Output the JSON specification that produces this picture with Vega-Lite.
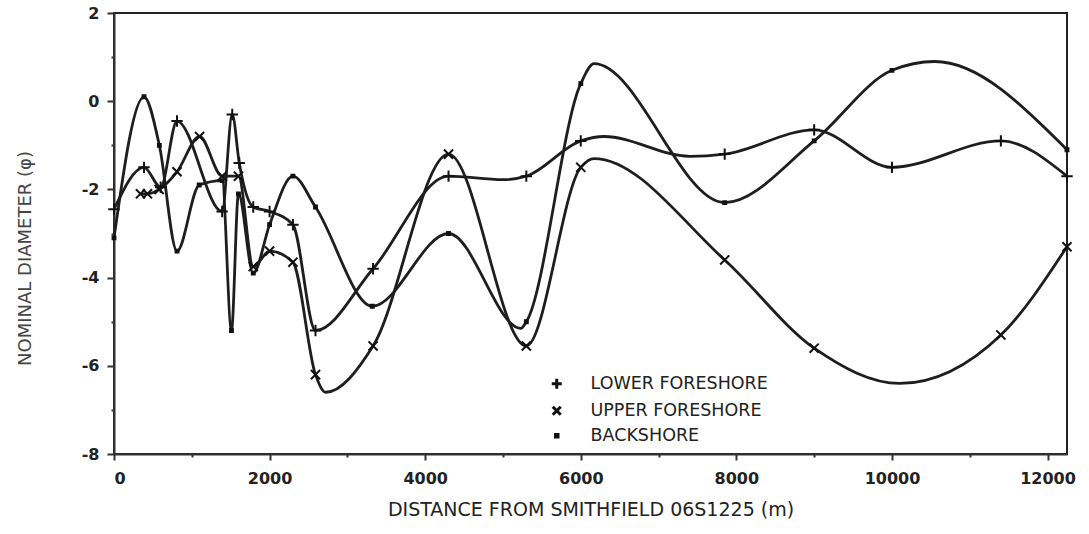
{
  "$schema": "https://vega.github.io/schema/vega-lite/v6.json",
  "autosize": "none",
  "width": 953,
  "height": 441,
  "padding": {"left": 114, "top": 13, "right": 22, "bottom": 80},
  "background": "white",
  "config": {
    "view": {"stroke": "#222", "strokeWidth": 2},
    "font": "DejaVu Sans"
  },
  "data": {"values": [
    {"s": "LOWER FORESHORE", "x": 0, "y": -2.45, "kind": "station"},
    {"s": "LOWER FORESHORE", "x": 386, "y": -1.5, "kind": "station"},
    {"s": "LOWER FORESHORE", "x": 600, "y": -1.95, "kind": "station"},
    {"s": "LOWER FORESHORE", "x": 810, "y": -0.45, "kind": "station"},
    {"s": "LOWER FORESHORE", "x": 1390, "y": -2.5, "kind": "station"},
    {"s": "LOWER FORESHORE", "x": 1520, "y": -0.3, "kind": "station"},
    {"s": "LOWER FORESHORE", "x": 1610, "y": -1.4, "kind": "station"},
    {"s": "LOWER FORESHORE", "x": 1790, "y": -2.4, "kind": "station"},
    {"s": "LOWER FORESHORE", "x": 2000, "y": -2.5, "kind": "station"},
    {"s": "LOWER FORESHORE", "x": 2300, "y": -2.8, "kind": "station"},
    {"s": "LOWER FORESHORE", "x": 2590, "y": -5.2, "kind": "station"},
    {"s": "LOWER FORESHORE", "x": 3330, "y": -3.8, "kind": "station"},
    {"s": "LOWER FORESHORE", "x": 4300, "y": -1.7, "kind": "station"},
    {"s": "LOWER FORESHORE", "x": 5000, "y": -1.78, "kind": "curve"},
    {"s": "LOWER FORESHORE", "x": 5300, "y": -1.7, "kind": "station"},
    {"s": "LOWER FORESHORE", "x": 6000, "y": -0.9, "kind": "station"},
    {"s": "LOWER FORESHORE", "x": 6300, "y": -0.8, "kind": "curve"},
    {"s": "LOWER FORESHORE", "x": 7400, "y": -1.25, "kind": "curve"},
    {"s": "LOWER FORESHORE", "x": 7850, "y": -1.2, "kind": "station"},
    {"s": "LOWER FORESHORE", "x": 9000, "y": -0.65, "kind": "station"},
    {"s": "LOWER FORESHORE", "x": 10000, "y": -1.5, "kind": "station"},
    {"s": "LOWER FORESHORE", "x": 11400, "y": -0.9, "kind": "station"},
    {"s": "LOWER FORESHORE", "x": 12250, "y": -1.7, "kind": "station"},
    {"s": "UPPER FORESHORE", "x": 340, "y": -2.1, "kind": "station"},
    {"s": "UPPER FORESHORE", "x": 430, "y": -2.1, "kind": "station"},
    {"s": "UPPER FORESHORE", "x": 580, "y": -2.0, "kind": "station"},
    {"s": "UPPER FORESHORE", "x": 810, "y": -1.6, "kind": "station"},
    {"s": "UPPER FORESHORE", "x": 1100, "y": -0.8, "kind": "station"},
    {"s": "UPPER FORESHORE", "x": 1390, "y": -1.7, "kind": "station"},
    {"s": "UPPER FORESHORE", "x": 1600, "y": -1.7, "kind": "station"},
    {"s": "UPPER FORESHORE", "x": 1790, "y": -3.75, "kind": "station"},
    {"s": "UPPER FORESHORE", "x": 2000, "y": -3.4, "kind": "station"},
    {"s": "UPPER FORESHORE", "x": 2300, "y": -3.65, "kind": "station"},
    {"s": "UPPER FORESHORE", "x": 2590, "y": -6.2, "kind": "station"},
    {"s": "UPPER FORESHORE", "x": 2720, "y": -6.6, "kind": "curve"},
    {"s": "UPPER FORESHORE", "x": 3330, "y": -5.55, "kind": "station"},
    {"s": "UPPER FORESHORE", "x": 4300, "y": -1.2, "kind": "station"},
    {"s": "UPPER FORESHORE", "x": 5300, "y": -5.55, "kind": "station"},
    {"s": "UPPER FORESHORE", "x": 6000, "y": -1.5, "kind": "station"},
    {"s": "UPPER FORESHORE", "x": 6170, "y": -1.3, "kind": "curve"},
    {"s": "UPPER FORESHORE", "x": 7850, "y": -3.6, "kind": "station"},
    {"s": "UPPER FORESHORE", "x": 9000, "y": -5.6, "kind": "station"},
    {"s": "UPPER FORESHORE", "x": 10100, "y": -6.4, "kind": "curve"},
    {"s": "UPPER FORESHORE", "x": 11400, "y": -5.3, "kind": "station"},
    {"s": "UPPER FORESHORE", "x": 12250, "y": -3.3, "kind": "station"},
    {"s": "BACKSHORE", "x": 0, "y": -3.1, "kind": "station"},
    {"s": "BACKSHORE", "x": 386, "y": 0.1, "kind": "station"},
    {"s": "BACKSHORE", "x": 583, "y": -1.0, "kind": "station"},
    {"s": "BACKSHORE", "x": 810, "y": -3.4, "kind": "station"},
    {"s": "BACKSHORE", "x": 1095, "y": -1.9, "kind": "station"},
    {"s": "BACKSHORE", "x": 1390, "y": -1.8, "kind": "station"},
    {"s": "BACKSHORE", "x": 1510, "y": -5.2, "kind": "station"},
    {"s": "BACKSHORE", "x": 1600, "y": -2.1, "kind": "station"},
    {"s": "BACKSHORE", "x": 1790, "y": -3.9, "kind": "station"},
    {"s": "BACKSHORE", "x": 2000, "y": -2.8, "kind": "station"},
    {"s": "BACKSHORE", "x": 2300, "y": -1.7, "kind": "station"},
    {"s": "BACKSHORE", "x": 2590, "y": -2.4, "kind": "station"},
    {"s": "BACKSHORE", "x": 3320, "y": -4.65, "kind": "station"},
    {"s": "BACKSHORE", "x": 4300, "y": -3.0, "kind": "station"},
    {"s": "BACKSHORE", "x": 5230, "y": -5.15, "kind": "curve"},
    {"s": "BACKSHORE", "x": 5300, "y": -5.0, "kind": "station"},
    {"s": "BACKSHORE", "x": 6000, "y": 0.4, "kind": "station"},
    {"s": "BACKSHORE", "x": 6170, "y": 0.85, "kind": "curve"},
    {"s": "BACKSHORE", "x": 7850, "y": -2.3, "kind": "station"},
    {"s": "BACKSHORE", "x": 9000, "y": -0.9, "kind": "station"},
    {"s": "BACKSHORE", "x": 10000, "y": 0.7, "kind": "station"},
    {"s": "BACKSHORE", "x": 10550, "y": 0.9, "kind": "curve"},
    {"s": "BACKSHORE", "x": 12250, "y": -1.1, "kind": "station"}
  ]},
  "encoding": {
    "x": {
      "field": "x", "type": "quantitative",
      "scale": {"domain": [0, 12250], "nice": false, "zero": false},
      "axis": {
        "title": "DISTANCE FROM SMITHFIELD 06S1225 (m)",
        "values": [0,1000,2000,3000,4000,5000,6000,7000,8000,9000,10000,11000,12000],
        "labelExpr": "datum.value % 2000 === 0 ? '' + datum.value : ''",
        "grid": false,
        "domainColor": "#333", "domainWidth": 2,
        "tickColor": "#333", "tickWidth": 2,
        "tickSize": {"condition": {"test": "datum.value % 2000 === 0", "value": 6}, "value": 3},
        "labelFont": "DejaVu Sans", "labelFontSize": 16, "labelFontWeight": "bold", "labelColor": "#222",
        "labelPadding": 10,
        "titleFont": "DejaVu Sans", "titleFontSize": 19, "titleFontWeight": "normal", "titleColor": "#222",
        "titleBaseline": "alphabetic",
        "titleY": 61
      }
    },
    "y": {
      "field": "y", "type": "quantitative",
      "scale": {"domain": [-8, 2], "nice": false, "zero": false},
      "axis": {
        "title": "NOMINAL DIAMETER (φ)",
        "values": [-8,-7,-6,-5,-4,-3,-2,-1,0,1,2],
        "labelExpr": "datum.value % 2 === 0 ? '' + datum.value : ''",
        "grid": false,
        "domainColor": "#333", "domainWidth": 2,
        "tickColor": "#333", "tickWidth": 2,
        "tickSize": {"condition": {"test": "datum.value % 2 === 0", "value": 7}, "value": 3},
        "labelFont": "DejaVu Sans", "labelFontSize": 16, "labelFontWeight": "bold", "labelColor": "#222",
        "labelPadding": 8,
        "titleFont": "DejaVu Sans", "titleFontSize": 18, "titleFontWeight": "normal", "titleColor": "#444",
        "titleX": -80,
        "titleY": 245
      }
    }
  },
  "layer": [
    {
      "mark": {"type": "line", "interpolate": "monotone", "color": "#1e1e1e", "strokeWidth": 2.8},
      "encoding": {"detail": {"field": "s"}}
    },
    {
      "transform": [{"filter": "datum.kind === 'station'"}],
      "mark": {"type": "point", "filled": true, "fill": "#111", "stroke": "#111", "strokeWidth": 2, "opacity": 1, "size": 130},
      "encoding": {
        "shape": {
          "field": "s", "type": "nominal",
          "sort": ["LOWER FORESHORE", "UPPER FORESHORE", "BACKSHORE"],
          "scale": {
            "domain": ["LOWER FORESHORE", "UPPER FORESHORE", "BACKSHORE"],
            "range": ["M-1,0L1,0M0,-1L0,1", "M-0.8,-0.8L0.8,0.8M0.8,-0.8L-0.8,0.8", "M-0.25,-0.25L0.25,-0.25L0.25,0.25L-0.25,0.25Z"]
          },
          "legend": {
            "title": null,
            "orient": "none",
            "legendX": 434,
            "legendY": 362,
            "symbolSize": 100,
            "symbolStrokeWidth": 3,
            "labelFont": "DejaVu Sans",
            "labelFontSize": 17.5,
            "labelColor": "#222",
            "labelLimit": 400,
            "labelOffset": 25,
            "rowPadding": 5,
            "padding": 0,
            "encode": {
              "symbols": {
                "update": {
                  "fill": {"value": "#111"},
                  "stroke": {"value": "#111"},
                  "strokeWidth": {"value": 3},
                  "opacity": {"value": 1}
                }
              }
            }
          }
        }
      }
    }
  ]
}
